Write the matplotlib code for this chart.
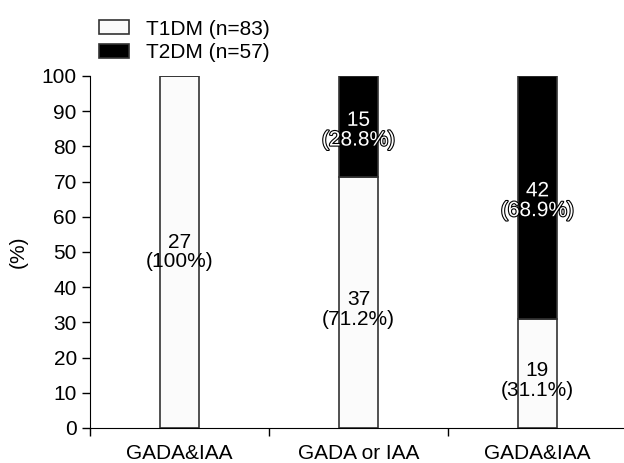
import numpy as np
import matplotlib.pyplot as plt
import matplotlib.patheffects as pe

plt.rcParams['font.family'] = ['Liberation Sans', 'DejaVu Sans']

categories = ["GADA&IAA", "GADA or IAA", "GADA&IAA"]
t1dm_pct = [100, 71.2, 31.1]
t2dm_pct = [0, 28.8, 68.9]
t1dm_n = [27, 37, 19]
t2dm_n = [0, 15, 42]
legend_labels = ["T1DM (n=83)", "T2DM (n=57)"]

fs = 15
fig = plt.figure(figsize=(6.24, 4.63), dpi=100)
ax = fig.add_axes([0.1442, 0.0756, 0.8606, 0.7603])

x = np.arange(len(categories))
w = 0.213
b1 = ax.bar(x, t1dm_pct, w, color="#fbfbfb", edgecolor="#333333", linewidth=1.2, label=legend_labels[0])
b2 = ax.bar(x, t2dm_pct, w, bottom=t1dm_pct, color="black", edgecolor="#333333", linewidth=1.2,
            label=legend_labels[1])

for i in range(len(categories)):
    # the lower labels sit a little below the segment middle in the original
    off = 2 if t2dm_n[i] else 0
    ax.text(x[i], t1dm_pct[i] / 2 - off, f"{t1dm_n[i]}\n({t1dm_pct[i]:g}%)", ha="center", va="center",
            fontsize=fs, linespacing=1.05)
    if t2dm_n[i]:
        ax.text(x[i], t1dm_pct[i] + t2dm_pct[i] / 2 - 1, f"{t2dm_n[i]}\n({t2dm_pct[i]:g}%)",
                ha="center", va="center", fontsize=fs, linespacing=1.05, color="white",
                path_effects=[pe.withStroke(linewidth=1.6, foreground="black")])

ax.set_ylim(0, 100)
ax.set_yticks(range(0, 101, 10))
ax.set_xlim(-0.5, 2.5)
ax.set_xticks(x - 0.5)
ax.set_xticklabels([])
ax.set_xticks(x, minor=True)
ax.set_xticklabels(categories, minor=True)
ax.tick_params(axis="x", which="minor", length=0, labelsize=fs, pad=11.5)
ax.tick_params(axis="both", which="major", length=6, width=1, labelsize=fs)
ax.spines["top"].set_visible(False)
ax.spines["right"].set_visible(False)
ax.set_ylabel("(%)", fontsize=fs, labelpad=10)

fig.legend(handles=[b1, b2], loc="upper left", bbox_to_anchor=(0.136, 0.989), frameon=False,
           fontsize=fs, handlelength=1.4, handleheight=0.67, handletextpad=0.82,
           labelspacing=0.23, borderaxespad=0.3)

plt.savefig("out.png", dpi=100)
